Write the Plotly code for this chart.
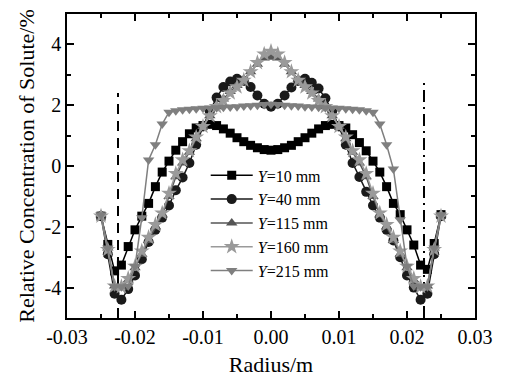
import plotly.graph_objects as go

radius = [round(-0.025 + 0.001 * i, 3) for i in range(51)]

y10 = [-1.65, -2.58, -3.45, -3.26, -2.65, -2.1, -1.65, -1.23, -0.68, -0.2, 0.16, 0.52, 0.8, 1.06, 1.25,
       1.33, 1.37, 1.33, 1.22, 1.08, 0.93, 0.8, 0.68, 0.6, 0.54,
       0.52,
       0.54, 0.6, 0.68, 0.8, 0.93, 1.08, 1.22, 1.33, 1.37, 1.33, 1.25, 1.03, 0.77, 0.5, 0.16,
       -0.2, -0.68, -1.23, -1.6, -2.1, -2.6, -3.26, -3.4, -2.55, -1.6]

y40 = [-1.65, -2.9, -4.2, -4.4, -4.05, -3.6, -3.07, -2.5, -2.1, -1.7, -1.3, -0.8, -0.38, 0.1, 0.7,
       1.3, 1.8, 2.25, 2.6, 2.78, 2.87, 2.8, 2.6, 2.32, 2.05,
       1.95,
       2.05, 2.32, 2.58, 2.8, 2.87, 2.74, 2.55, 2.23, 1.8, 1.3, 0.7, 0.1, -0.36, -0.85, -1.3,
       -1.7, -2.1, -2.45, -3.0, -3.6, -4.0, -4.4, -4.2, -2.9, -1.65]

y115 = [-1.6, -2.7, -3.95, -4.0, -3.75, -3.35, -2.9, -2.45, -2.0, -1.6, -1.0, -0.35, 0.1, 0.45, 0.9,
        1.3, 1.65, 1.95, 2.2, 2.45, 2.65, 2.85, 3.1, 3.35, 3.55,
        3.58,
        3.55, 3.35, 3.1, 2.85, 2.65, 2.45, 2.2, 1.95, 1.65, 1.3, 0.9, 0.45, 0.1, -0.35, -1.0,
        -1.6, -2.0, -2.45, -2.9, -3.35, -3.75, -4.0, -3.95, -2.7, -1.6]

y160 = [-1.65, -2.75, -3.95, -3.97, -3.7, -3.3, -2.8, -2.35, -1.93, -1.55, -0.9, -0.25, 0.2, 0.5, 0.95,
        1.3, 1.65, 1.95, 2.15, 2.4, 2.6, 2.82, 3.1, 3.4, 3.68,
        3.77,
        3.68, 3.4, 3.1, 2.82, 2.6, 2.4, 2.15, 1.95, 1.65, 1.3, 0.95, 0.5, 0.2, -0.25, -0.9,
        -1.55, -1.93, -2.35, -2.8, -3.3, -3.7, -3.97, -3.95, -2.75, -1.65]

y215 = [-1.6, -2.7, -3.97, -3.97, -3.95, -3.3, -1.7, 0.2, 0.7, 1.38, 1.77, 1.82, 1.85, 1.87, 1.88,
        1.9, 1.91, 1.92, 1.93, 1.94, 1.95, 1.97, 1.98, 2.0, 2.02,
        2.03,
        2.02, 2.0, 1.98, 1.97, 1.95, 1.94, 1.93, 1.92, 1.91, 1.9, 1.88, 1.87, 1.85, 1.82, 1.77,
        1.38, 0.7, -0.1, -1.77, -3.3, -3.95, -3.97, -3.97, -2.7, -1.6]

labels = ["<i>Y</i>=10 mm", "<i>Y</i>=40 mm", "<i>Y</i>=115 mm", "<i>Y</i>=160 mm", "<i>Y</i>=215 mm"]
series = [y10, y40, y115, y160, y215]
symbols = ["square", "circle", "triangle-up", "star", "triangle-down"]
colors = ["#000000", "#1a1a1a", "#555555", "#9a9a9a", "#7f7f7f"]
msizes = [9, 10, 10, 12, 10]

x_tickvals = [-0.03, -0.02, -0.01, 0.0, 0.01, 0.02, 0.03]
x_ticktext = ["-0.03", "-0.02", "-0.01", "0.00", "0.01", "0.02", "0.03"]
y_tickvals = [-4, -2, 0, 2, 4]
y_ticktext = ["-4", "-2", "0", "2", "4"]

left_line_x = [-0.0225, -0.0225]
left_line_y = [-5, 2.4]
right_line_x = [0.0225, 0.0225]
right_line_y = [-5, 2.75]

font = "Liberation Serif, Times New Roman, serif"

fig = go.Figure()
fig.add_trace(go.Scatter(x=left_line_x, y=left_line_y, mode="lines", showlegend=False,
                         line=dict(color="black", width=2, dash="10px,7px")))
fig.add_trace(go.Scatter(x=right_line_x, y=right_line_y, mode="lines", showlegend=False,
                         line=dict(color="black", width=2, dash="12px,5px,2px,5px")))
for lab, ys, sym, col, ms in zip(labels, series, symbols, colors, msizes):
    fig.add_trace(go.Scatter(x=radius, y=ys, mode="lines+markers", name=lab,
                             line=dict(color=col, width=1.5),
                             marker=dict(symbol=sym, size=ms, color=col, line=dict(width=0))))

axis_common = dict(showline=True, linecolor="black", linewidth=1.5, mirror="ticks",
                   ticks="inside", ticklen=7, tickwidth=1.5, tickcolor="black",
                   showgrid=False, zeroline=False,
                   tickfont=dict(family=font, size=20, color="black"))

fig.update_xaxes(range=[-0.03, 0.03], tickmode="array", tickvals=x_tickvals, ticktext=x_ticktext,
                 minor=dict(dtick=0.005, ticks="inside", ticklen=4, tickwidth=1.5, tickcolor="black"),
                 title=dict(text="Radius/m", font=dict(family=font, size=22, color="black"), standoff=10),
                 **axis_common)
fig.update_yaxes(range=[-5, 5], tickmode="array", tickvals=y_tickvals, ticktext=y_ticktext,
                 minor=dict(dtick=1, ticks="inside", ticklen=4, tickwidth=1.5, tickcolor="black"),
                 title=dict(text="Relative Concentration of Solute/%",
                            font=dict(family=font, size=22, color="black"), standoff=4),
                 **axis_common)

fig.update_layout(
    width=505, height=385,
    margin=dict(l=67, r=19, t=13, b=62),
    paper_bgcolor="white", plot_bgcolor="white",
    font=dict(family=font, color="black"),
    legend=dict(x=0.34, y=0.525, xanchor="left", yanchor="top",
                bgcolor="rgba(0,0,0,0)", font=dict(family=font, size=16, color="black"),
                tracegroupgap=0, itemwidth=42),
)

fig.write_html("out.html")
